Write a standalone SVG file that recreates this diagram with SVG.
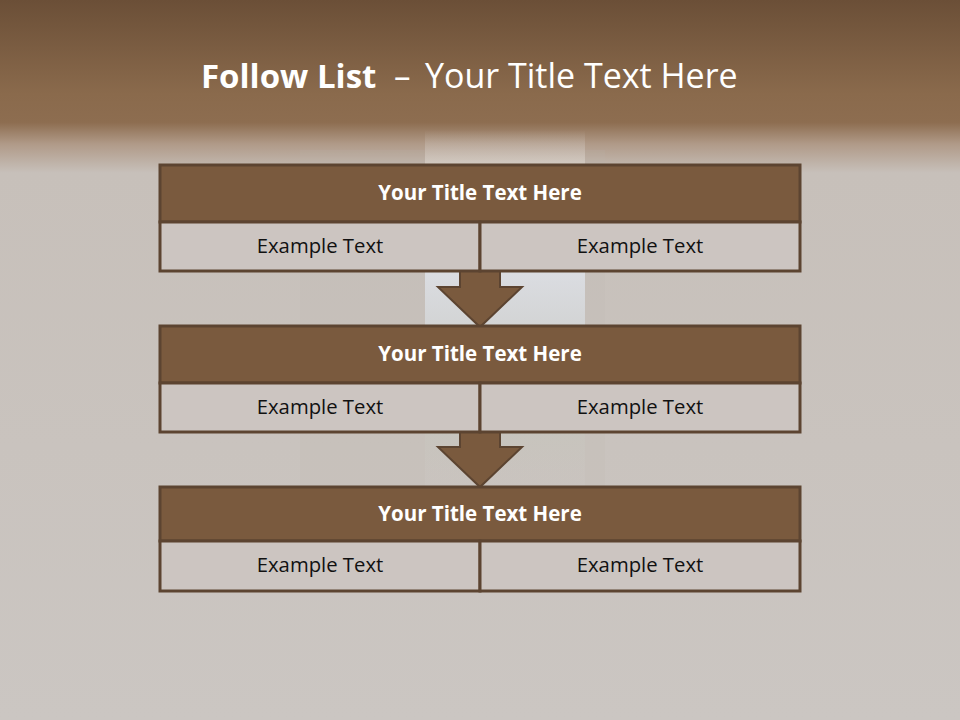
<svg xmlns="http://www.w3.org/2000/svg" width="960" height="720" viewBox="0 0 960 720">
<defs>
<linearGradient id="bg" x1="0" y1="0" x2="0" y2="1">
<stop offset="0" stop-color="#6b4f37"/>
<stop offset="0.13" stop-color="#8a6a4c"/>
<stop offset="0.17" stop-color="#8d6d50"/>
<stop offset="0.20" stop-color="#b09a88"/>
<stop offset="0.24" stop-color="#c7c0ba"/>
<stop offset="1" stop-color="#cbc6c2"/>
</linearGradient>
<linearGradient id="win" x1="0" y1="0" x2="0" y2="1">
<stop offset="0" stop-color="#cfc6bf" stop-opacity="0"/>
<stop offset="0.1" stop-color="#d8d0c8"/>
<stop offset="0.4" stop-color="#dfe3ea"/>
<stop offset="0.55" stop-color="#d5d8da"/>
<stop offset="0.7" stop-color="#c2c6b8"/>
<stop offset="1" stop-color="#c8c5bf" stop-opacity="0"/>
</linearGradient>
<style>
.tb{fill:#7a5a3e;stroke:#5c4431;stroke-width:3}
.cb{fill:#ccc5c1;stroke:#5c4431;stroke-width:3}
.ar{fill:#7a5a3e;stroke:#5c4431;stroke-width:2;stroke-linejoin:miter}
.tt{font-family:"Open Sans","Liberation Sans",sans-serif;font-weight:bold;font-size:20.5px;fill:#ffffff;text-anchor:middle}
.ct{font-family:"Open Sans","Liberation Sans",sans-serif;font-size:20.3px;fill:#111111;text-anchor:middle}
.ht{font-family:"Open Sans","Liberation Sans",sans-serif;fill:#ffffff}
</style>
</defs>
<rect x="0" y="0" width="960" height="720" fill="url(#bg)"/>
<rect x="425" y="130" width="160" height="360" fill="url(#win)" opacity="0.8"/>
<rect x="300" y="150" width="125" height="340" fill="#bfb5ad" opacity="0.15"/>
<rect x="585" y="150" width="20" height="340" fill="#bfb5ad" opacity="0.15"/>
<text class="ht" x="201" y="88" font-size="33" font-weight="bold">Follow List</text>
<text class="ht" x="394" y="88" font-size="33">–</text>
<text class="ht" x="425" y="88" font-size="34">Your Title Text Here</text>
<g id="connectors">
<path class="ar" d="M460,271 L500,271 L500,287 L522,287 L480,327 L438,287 L460,287 Z"/>
<path class="ar" d="M460,432 L500,432 L500,447 L522,447 L480,487 L438,447 L460,447 Z"/>
</g>
<g id="node1">
<rect class="tb" x="160" y="165" width="640" height="57"/>
<rect class="cb" x="160" y="222" width="320" height="49"/>
<rect class="cb" x="480" y="222" width="320" height="49"/>
<text class="tt" x="480" y="200">Your Title Text Here</text>
<text class="ct" x="320" y="253">Example Text</text>
<text class="ct" x="640" y="253">Example Text</text>
</g>
<g id="node2">
<rect class="tb" x="160" y="326" width="640" height="57"/>
<rect class="cb" x="160" y="383" width="320" height="49"/>
<rect class="cb" x="480" y="383" width="320" height="49"/>
<text class="tt" x="480" y="361">Your Title Text Here</text>
<text class="ct" x="320" y="414">Example Text</text>
<text class="ct" x="640" y="414">Example Text</text>
</g>
<g id="node3">
<rect class="tb" x="160" y="487" width="640" height="54"/>
<rect class="cb" x="160" y="541" width="320" height="50"/>
<rect class="cb" x="480" y="541" width="320" height="50"/>
<text class="tt" x="480" y="521">Your Title Text Here</text>
<text class="ct" x="320" y="572">Example Text</text>
<text class="ct" x="640" y="572">Example Text</text>
</g>
</svg>
